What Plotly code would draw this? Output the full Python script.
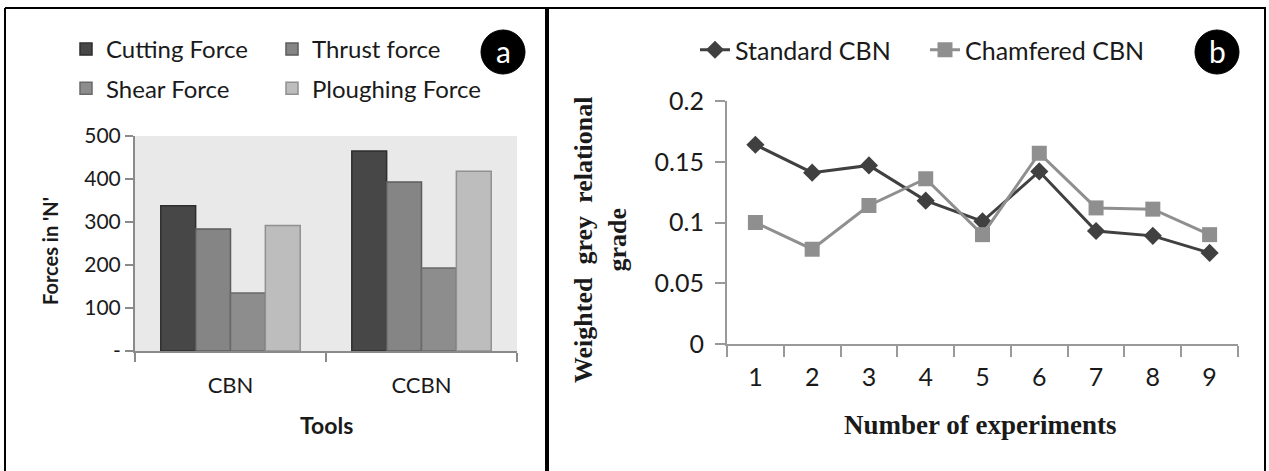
import plotly.graph_objects as go

W, H = 1269, 471

# ---------- data ----------
tools = ["CBN", "CCBN"]
cutting_force = [338, 465]
thrust_force = [284, 393]
shear_force = [135, 193]
ploughing_force = [292, 418]

experiments = [1, 2, 3, 4, 5, 6, 7, 8, 9]
standard_cbn = [0.164, 0.141, 0.147, 0.118, 0.101, 0.142, 0.093, 0.089, 0.075]
chamfered_cbn = [0.100, 0.078, 0.114, 0.136, 0.090, 0.157, 0.112, 0.111, 0.090]

y_left_ticks = [0, 100, 200, 300, 400, 500]
y_left_text = ["-", "100", "200", "300", "400", "500"]
y_right_ticks = [0, 0.05, 0.1, 0.15, 0.2]
y_right_text = ["0", "0.05", "0.1", "0.15", "0.2"]


def px(x):
    return x / W


def py(y):
    return 1 - y / H


SANS = "Lato, 'Open Sans', sans-serif"
SERIF = "'Liberation Serif', 'DejaVu Serif', serif"
TXT = "#1a1a1a"

fig = go.Figure()

bar_x = list(range(len(tools)))
bar_specs = [
    ("Cutting Force", cutting_force, "#474747", "#2e2e2e", "legend"),
    ("Thrust force", thrust_force, "#858585", "#5c5c5c", "legend2"),
    ("Shear Force", shear_force, "#8d8d8d", "#6a6a6a", "legend"),
    ("Ploughing Force", ploughing_force, "#bdbdbd", "#909090", "legend2"),
]
for name, vals, col, lcol, lg in bar_specs:
    fig.add_trace(go.Bar(
        x=bar_x, y=vals, name=name, marker=dict(color=col, line=dict(color=lcol, width=1.5)),
        xaxis="x", yaxis="y", legend=lg, legendgroup=name,
    ))

fig.add_trace(go.Scatter(
    x=experiments, y=standard_cbn, name="Standard CBN", mode="lines+markers",
    line=dict(color="#404040", width=3), marker=dict(symbol="diamond", size=14, color="#404040"),
    xaxis="x2", yaxis="y2", legend="legend3",
))
fig.add_trace(go.Scatter(
    x=experiments, y=chamfered_cbn, name="Chamfered CBN", mode="lines+markers",
    line=dict(color="#8f8f8f", width=3), marker=dict(symbol="square", size=15, color="#8f8f8f"),
    xaxis="x2", yaxis="y2", legend="legend4",
))

axis_gray = "#8a8a8a"

fig.update_layout(
    template="none",
    width=W, height=H,
    margin=dict(l=0, r=0, t=0, b=0, pad=0, autoexpand=False),
    paper_bgcolor="white",
    plot_bgcolor="white",
    bargap=0.27, bargroupgap=0,
    font=dict(family=SANS, color=TXT),
    xaxis=dict(
        domain=[px(135), px(517)], anchor="y", range=[-0.5, 1.5], automargin=False,
        tickmode="array", tickvals=bar_x, ticktext=tools, ticks="",
        ticklabelstandoff=14,
        tickfont=dict(size=22, family=SANS, color=TXT),
        showline=True, linecolor=axis_gray, linewidth=2, showgrid=False, zeroline=False,
        minor=dict(tick0=0.5, dtick=1, ticks="outside", ticklen=9, tickcolor=axis_gray, tickwidth=2, showgrid=False),
    ),
    yaxis=dict(
        domain=[py(351), py(136)], anchor="x", range=[0, 500], automargin=False,
        tickmode="array", tickvals=y_left_ticks, ticktext=y_left_text,
        ticks="outside", ticklen=8, tickcolor=axis_gray, tickwidth=2,
        tickfont=dict(size=21, family=SANS, color=TXT),
        showline=True, linecolor=axis_gray, linewidth=2, showgrid=False, zeroline=False,
    ),
    xaxis2=dict(
        domain=[px(727), px(1238)], anchor="y2", range=[0.5, 9.5], automargin=False,
        tickmode="array", tickvals=experiments, ticks="",
        ticklabelstandoff=10,
        tickfont=dict(size=25, family=SANS, color=TXT),
        showline=True, linecolor="#999999", linewidth=2, showgrid=False, zeroline=False,
        minor=dict(tick0=0.5, dtick=1, ticks="outside", ticklen=11, tickcolor="#999999", tickwidth=2, showgrid=False),
    ),
    yaxis2=dict(
        domain=[py(344), py(101)], anchor="x2", range=[0, 0.2], automargin=False,
        tickmode="array", tickvals=y_right_ticks, ticktext=y_right_text,
        ticks="outside", ticklen=10, tickcolor="#999999", tickwidth=2,
        ticklabelstandoff=6,
        tickfont=dict(size=25, family=SANS, color=TXT),
        showline=True, linecolor="#999999", linewidth=2, showgrid=False, zeroline=False,
    ),
    legend=dict(x=px(66), y=py(69), xanchor="left", yanchor="middle", orientation="v",
                font=dict(size=24, family=SANS, color=TXT), tracegroupgap=5, bgcolor="rgba(0,0,0,0)"),
    legend2=dict(x=px(272), y=py(69), xanchor="left", yanchor="middle", orientation="v",
                 font=dict(size=24, family=SANS, color=TXT), tracegroupgap=5, bgcolor="rgba(0,0,0,0)"),
    legend3=dict(x=px(695), y=py(50), xanchor="left", yanchor="middle", orientation="h",
                 font=dict(size=25, family=SANS, color=TXT), bgcolor="rgba(0,0,0,0)"),
    legend4=dict(x=px(925), y=py(50), xanchor="left", yanchor="middle", orientation="h",
                 font=dict(size=25, family=SANS, color=TXT), bgcolor="rgba(0,0,0,0)"),
    showlegend=True,
)

# plot area background for left panel
fig.add_shape(type="rect", xref="x domain", yref="y domain", x0=0, x1=1, y0=0, y1=1,
              fillcolor="#e9e9e9", line=dict(width=0), layer="below")

# panel frames
frame = dict(color="black", width=2)
fig.add_shape(type="line", xref="paper", yref="paper", x0=px(5), x1=px(5), y0=py(8), y1=0, line=frame)
fig.add_shape(type="line", xref="paper", yref="paper", x0=px(5), x1=px(1265), y0=py(8), y1=py(8), line=frame)
fig.add_shape(type="line", xref="paper", yref="paper", x0=px(547), x1=px(547), y0=py(7), y1=0,
              line=dict(color="black", width=4))
fig.add_shape(type="line", xref="paper", yref="paper", x0=px(1265), x1=px(1265), y0=py(7), y1=0, line=frame)

# panel labels (a), (b)
for cx, lab in [(503, "a"), (1217, "b")]:
    fig.add_shape(type="circle", xref="paper", yref="paper",
                  x0=px(cx - 22), x1=px(cx + 22), y0=py(52 + 22), y1=py(52 - 22),
                  fillcolor="black", line=dict(color="black", width=1))
    fig.add_annotation(x=px(cx), y=py(51), xref="paper", yref="paper", text=lab, showarrow=False,
                       font=dict(size=30, color="white", family=SANS), xanchor="center", yanchor="middle")

# axis titles
fig.add_annotation(x=px(50), y=py(251), xref="paper", yref="paper", text="<b>Forces in 'N'</b>",
                   textangle=-90, showarrow=False, xanchor="center", yanchor="middle",
                   font=dict(size=20, family=SANS, color=TXT))
fig.add_annotation(x=px(326), y=py(425), xref="paper", yref="paper", text="<b>Tools</b>",
                   showarrow=False, xanchor="center", yanchor="middle",
                   font=dict(size=23, family=SANS, color=TXT))
fig.add_annotation(x=px(600), y=py(240), xref="paper", yref="paper",
                   text="<b>Weighted  grey  relational<br>grade</b>",
                   textangle=-90, showarrow=False, xanchor="center", yanchor="middle",
                   font=dict(size=26, family=SERIF, color=TXT))
fig.add_annotation(x=px(980), y=py(425), xref="paper", yref="paper", text="<b>Number of experiments</b>",
                   showarrow=False, xanchor="center", yanchor="middle",
                   font=dict(size=27, family=SERIF, color=TXT))

fig.write_html(
    "out.html",
    config={"displayModeBar": False},
    post_script="document.body.style.margin='0';document.body.style.padding='0';"
                "document.documentElement.style.overflow='hidden';",
)
